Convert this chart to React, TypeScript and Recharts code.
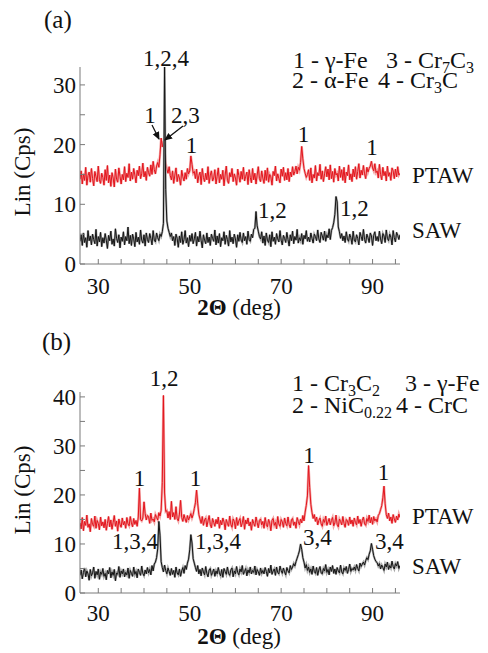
import React from 'react';
import { LineChart, Line, XAxis, YAxis } from 'recharts';

// 2θ scan grid (deg)
const twoThetaStart = 26;
const twoThetaStep = 0.25;

// (a) SAW intensity, Cps
const sawA = [
  3.8,4.9,3.1,5.2,3.6,4.4,2.8,5.6,3.9,4.7,3.2,5.0,4.1,3.4,5.8,3.0,4.6,3.7,5.3,2.9,
  4.4,3.5,5.1,4.0,2.6,4.8,3.9,5.5,3.3,4.2,3.0,5.9,4.3,3.6,4.9,2.7,4.5,3.8,5.4,3.2,
  4.6,3.9,6.2,3.4,4.8,3.1,5.0,4.2,2.9,5.3,3.7,4.5,3.3,5.7,4.0,3.5,4.9,3.0,5.2,4.1,
  3.6,5.1,4.3,3.2,5.6,4.0,3.7,5.2,4.4,3.9,5.0,4.6,5.4,6.8,33.0,12.5,7.2,6.0,5.3,4.6,
  5.2,3.9,4.6,3.1,5.0,4.3,2.8,4.7,3.6,5.4,3.3,4.1,5.6,3.5,4.4,2.9,4.8,3.8,5.1,3.4,
  4.2,5.3,3.0,4.6,3.7,5.5,3.9,2.7,4.9,4.0,3.4,5.2,3.6,4.5,3.1,5.0,4.3,3.8,5.7,3.2,
  4.7,3.5,5.1,2.9,4.4,3.9,5.4,3.3,4.8,4.1,3.0,5.6,3.7,4.5,3.4,5.0,4.2,2.8,4.9,3.8,
  5.3,4.0,3.6,5.2,3.9,4.6,3.3,5.5,4.1,3.8,5.0,4.4,5.8,6.0,8.8,6.4,5.5,4.6,4.2,5.4,
  3.5,4.7,3.1,5.2,4.0,3.6,4.9,2.9,5.4,3.8,4.5,3.3,5.1,4.2,3.7,5.6,4.0,3.2,4.8,4.3,
  3.6,5.3,4.1,3.0,4.9,3.9,5.5,3.4,4.6,4.0,5.8,3.5,4.4,3.9,5.1,3.3,4.8,4.2,5.6,3.8,
  4.5,3.7,5.2,4.3,3.5,5.0,4.6,3.9,5.7,4.2,3.6,5.3,4.7,4.0,5.5,3.8,4.9,4.4,5.9,4.1,
  5.6,6.1,6.9,8.3,11.3,10.4,6.2,5.4,4.3,5.1,3.9,4.7,3.6,5.4,4.2,3.8,5.0,4.4,3.3,5.5,
  4.0,3.7,4.9,4.3,3.2,5.3,4.6,3.9,5.8,4.1,3.5,5.0,4.4,3.6,5.2,4.7,3.1,4.8,5.4,3.9,
  4.6,3.8,5.5,4.2,3.4,5.1,4.7,3.6,5.7,4.3,3.9,5.0,4.5,3.2,5.6,4.4,3.7,5.3,4.8,4.1,
  4.9,
];

// (a) PTAW intensity, Cps
const ptawA = [
  14.2,15.6,13.4,15.1,14.0,16.2,13.2,14.8,15.4,13.7,16.0,14.3,13.1,15.5,14.6,13.8,16.4,14.1,13.5,15.2,
  14.5,13.2,15.8,14.0,16.5,13.6,14.9,13.0,15.3,14.4,12.9,15.9,14.2,13.7,16.1,14.7,13.4,15.0,14.1,16.3,
  13.8,15.2,14.5,16.8,13.9,15.4,14.2,16.0,14.9,13.6,15.7,14.8,16.4,14.3,15.1,16.9,14.6,15.5,14.0,16.2,
  15.3,14.7,16.6,15.0,17.2,15.8,15.1,16.4,17.0,16.2,18.3,21.1,19.6,20.6,19.0,16.9,15.9,15.2,16.3,14.8,
  14.1,15.6,13.5,14.9,16.1,13.8,15.0,14.4,13.2,15.7,14.6,13.9,15.3,14.2,16.0,15.1,15.6,18.1,16.7,15.2,
  15.5,14.3,15.9,13.6,14.8,15.4,13.3,16.0,14.5,13.8,15.2,14.1,16.3,13.5,14.9,15.6,13.9,14.4,15.8,13.4,
  14.7,16.1,13.6,15.0,14.2,15.7,13.1,14.9,16.4,14.0,13.5,15.3,14.6,16.0,13.8,15.1,14.4,13.2,15.9,14.8,
  13.7,15.5,14.2,16.2,13.9,14.7,15.4,13.3,15.8,14.5,13.6,16.0,14.1,15.2,13.4,14.9,16.3,14.3,13.8,15.6,
  14.4,13.5,15.7,14.0,16.1,13.7,15.0,14.6,13.2,15.5,14.8,16.4,13.9,15.1,14.3,13.6,15.9,14.7,16.2,14.0,
  15.3,14.1,16.0,13.8,15.4,14.6,16.3,14.9,15.5,16.4,15.1,16.2,15.7,17.0,19.7,17.6,16.0,15.2,14.5,15.0,
  15.8,14.0,16.1,13.6,15.0,14.4,16.5,13.9,15.3,14.8,16.7,14.2,15.6,13.8,15.1,16.3,14.6,15.9,14.1,16.6,
  14.3,15.5,13.7,16.0,14.9,15.2,13.9,16.4,14.5,15.8,14.0,16.2,13.6,15.4,14.8,16.6,14.1,15.1,13.8,15.9,
  14.6,16.3,14.2,15.5,16.8,14.4,15.7,14.9,16.5,15.1,14.3,16.2,15.4,16.0,16.4,17.2,16.1,15.6,16.8,15.3,
  15.6,14.4,16.7,15.0,14.1,16.2,14.8,15.5,13.9,16.4,14.7,15.3,14.0,16.1,15.6,14.3,15.9,14.6,16.3,14.9,
  15.2,
];

// (b) SAW intensity, Cps
const sawB = [
  3.6,4.7,2.9,4.2,5.1,3.3,4.5,3.9,2.6,4.8,3.5,4.1,5.3,3.0,4.4,3.7,4.9,2.8,4.3,3.8,
  5.0,3.4,4.0,2.7,4.6,3.9,5.2,3.1,4.3,3.6,4.8,2.5,4.1,3.8,5.4,3.2,4.5,3.9,4.9,3.3,
  4.2,3.7,5.1,3.0,4.6,4.0,3.4,5.3,3.8,4.4,3.1,4.9,4.2,3.6,5.5,4.0,3.5,4.7,3.9,5.2,
  4.1,4.8,3.7,5.6,4.5,5.9,6.3,7.2,9.0,14.6,11.8,6.4,5.2,4.3,5.7,4.6,3.9,5.1,4.4,3.6,
  5.0,3.8,4.6,3.2,5.3,4.1,3.7,4.9,3.4,4.5,5.2,4.0,5.6,4.8,6.1,6.9,8.8,11.9,10.2,7.0,
  6.1,5.2,4.4,5.6,3.9,4.8,3.5,5.1,4.3,3.7,5.4,4.0,3.3,4.7,5.0,3.6,4.2,4.9,3.4,4.5,
  3.9,5.2,4.1,3.5,4.8,3.2,5.0,4.4,3.8,5.3,4.0,3.6,4.7,5.1,3.3,4.5,3.9,5.4,4.2,3.7,
  4.9,4.3,5.6,3.8,4.4,5.0,3.5,4.7,4.1,5.3,3.9,4.6,4.2,5.5,3.7,4.8,4.3,3.6,5.1,4.0,
  4.6,3.9,5.2,4.4,3.4,5.0,4.1,5.7,3.8,4.5,4.9,3.6,5.3,4.2,3.9,5.5,4.6,4.0,5.1,4.3,
  3.7,5.2,4.5,4.1,5.6,4.8,5.3,6.0,5.5,6.4,7.1,7.8,8.6,10.0,8.9,7.2,6.3,5.1,5.8,4.6,
  5.3,4.2,4.9,3.8,5.5,4.4,4.0,5.2,3.6,4.7,5.4,4.1,3.9,5.0,4.5,5.8,4.2,4.8,3.7,5.3,
  4.4,5.6,4.0,4.9,3.8,5.2,4.5,4.1,5.7,4.3,3.9,5.1,4.6,5.4,4.0,4.8,5.9,4.4,5.0,4.7,
  5.3,4.6,5.8,5.0,4.5,6.1,5.4,5.9,6.3,5.7,6.6,7.2,6.8,7.9,8.6,10.1,8.9,7.6,6.9,6.4,
  6.2,5.5,6.0,4.9,5.7,5.2,4.6,5.9,5.3,6.3,4.8,5.6,5.1,6.5,5.4,4.9,6.0,5.5,6.4,5.0,
  5.6,
];

// (b) PTAW intensity, Cps
const ptawB = [
  14.3,13.1,15.4,12.7,14.6,13.8,15.9,13.4,14.1,12.5,15.2,14.0,13.6,15.7,13.2,14.8,14.2,12.9,15.5,13.7,
  14.5,13.3,15.0,12.8,14.2,15.6,13.5,14.9,13.0,14.4,15.8,13.6,14.7,12.6,15.1,14.0,13.4,15.3,13.9,14.6,
  13.2,15.4,14.1,13.7,15.6,14.3,13.5,15.2,14.0,14.8,13.6,15.5,21.4,15.0,14.7,15.3,18.6,16.2,14.9,15.8,
  15.6,14.2,16.3,14.8,15.1,14.5,16.0,15.4,14.9,16.4,15.7,16.9,22.5,40.3,20.4,16.6,16.8,15.3,16.6,15.0,
  18.7,15.5,16.4,15.0,17.6,15.2,14.7,16.1,18.9,15.4,14.6,16.0,15.1,14.4,15.8,14.9,15.5,16.2,15.3,16.0,
  17.2,18.4,21.0,18.2,16.0,15.1,14.2,15.6,13.8,14.9,15.3,13.5,14.7,15.8,14.0,13.3,15.2,14.4,13.6,15.0,
  14.1,15.5,13.2,14.8,13.9,15.3,14.5,12.9,15.0,14.2,13.6,15.7,14.0,13.4,15.1,14.6,13.1,15.4,13.8,14.7,
  15.2,13.5,14.3,15.6,13.0,14.9,14.1,15.3,13.7,14.5,12.8,15.0,14.2,13.6,15.5,14.4,13.3,14.8,15.1,13.9,
  14.6,13.2,15.4,14.0,13.5,15.0,14.3,12.7,14.8,15.2,13.8,14.4,13.1,15.6,14.1,13.6,15.0,14.5,13.4,15.3,
  14.2,13.7,15.5,14.0,13.3,14.9,15.2,13.8,14.5,13.2,15.4,14.6,13.9,15.1,14.3,15.8,14.7,16.5,17.9,19.8,
  26.0,21.5,18.1,16.4,15.2,16.0,14.6,15.5,13.9,14.8,15.3,14.1,13.6,15.0,14.4,15.7,13.8,14.5,15.2,13.9,
  14.8,15.4,13.7,14.3,15.9,14.0,13.5,15.1,14.6,13.9,15.6,14.2,13.4,15.0,14.7,13.8,15.5,14.1,14.9,13.6,
  15.3,14.4,13.9,15.7,14.2,15.0,13.6,14.8,15.5,14.1,13.8,15.2,14.6,15.9,14.3,15.4,14.0,15.6,14.7,15.1,
  14.5,15.8,16.2,17.0,17.8,19.4,21.8,18.2,16.0,15.2,16.3,14.7,15.5,14.2,16.0,15.1,14.4,15.7,14.9,16.1,
  15.4,
];

const xDomain: [number, number] = [26, 96];
const xTicks = [30, 35, 40, 45, 50, 55, 60, 65, 70, 75, 80, 85, 90, 95];
const xTickLabels = [30, 50, 70, 90];
const yDomainA: [number, number] = [0, 33];
const yDomainB: [number, number] = [0, 41];
const yTicksA = [0, 5, 10, 15, 20, 25, 30];
const yTicksB = [0, 5, 10, 15, 20, 25, 30, 35, 40];
const yTickLabelsA = [0, 10, 20, 30];
const yTickLabelsB = [0, 10, 20, 30, 40];

const buildRows = (saw: number[], ptaw: number[]) =>
  saw.map((v, i) => ({ x: twoThetaStart + i * twoThetaStep, saw: v, ptaw: ptaw[i] }));

const rowsA = buildRows(sawA, ptawA);
const rowsB = buildRows(sawB, ptawB);

const SERIF = "'Liberation Serif', 'DejaVu Serif', serif";
const AXIS = '#7a7a7a';
const RED = '#e3141c';
const RED_HALO = '#f3a5a5';
const BLACK = '#151515';
const BLACK_HALO = '#a8a8a8';
const FS = 23;
const txtStyle = { fontFamily: SERIF };

const makeXTick = (labelOffset: number) => (props: any) => {
  const { x, y, payload } = props;
  const v = payload.value;
  return (
    <g>
      <line x1={x} x2={x} y1={y} y2={y - 5} stroke={AXIS} strokeWidth={1} />
      {xTickLabels.includes(v) && (
        <text x={x} y={y + labelOffset} textAnchor="middle" fontSize={FS} style={txtStyle} fill="#111">
          {v}
        </text>
      )}
    </g>
  );
};

const makeYTick = (labels: number[]) => (props: any) => {
  const { x, y, payload } = props;
  const v = payload.value;
  return (
    <g>
      <line x1={x} x2={x + 5} y1={y} y2={y} stroke={AXIS} strokeWidth={1} />
      {labels.includes(v) && (
        <text x={x - 4} y={y + 8} textAnchor="end" fontSize={FS} style={txtStyle} fill="#111">
          {v}
        </text>
      )}
    </g>
  );
};

type PanelProps = {
  rows: { x: number; saw: number; ptaw: number }[];
  height: number;
  bottom: number;
  yDomain: [number, number];
  yTicks: number[];
  yLabels: number[];
  labelOffset: number;
};

const Panel = ({ rows, height, bottom, yDomain, yTicks, yLabels, labelOffset }: PanelProps) => (
  <LineChart width={488} height={height} data={rows} margin={{ top: 67, right: 88, bottom, left: 20 }}>
    <XAxis
      dataKey="x"
      type="number"
      domain={xDomain}
      ticks={xTicks}
      interval={0}
      allowDataOverflow
      height={30}
      tickSize={0}
      tickMargin={0}
      axisLine={{ stroke: AXIS }}
      tickLine={false}
      tick={makeXTick(labelOffset)}
    />
    <YAxis
      type="number"
      domain={yDomain}
      ticks={yTicks}
      interval={0}
      allowDataOverflow
      width={60}
      tickSize={0}
      tickMargin={0}
      axisLine={{ stroke: AXIS }}
      tickLine={false}
      tick={makeYTick(yLabels)}
    />
    <Line dataKey="ptaw" stroke={RED_HALO} strokeWidth={2.4} dot={false} activeDot={false} isAnimationActive={false} />
    <Line dataKey="ptaw" stroke={RED} strokeWidth={1} dot={false} activeDot={false} isAnimationActive={false} />
    <Line dataKey="saw" stroke={BLACK_HALO} strokeWidth={2.2} dot={false} activeDot={false} isAnimationActive={false} />
    <Line dataKey="saw" stroke={BLACK} strokeWidth={1} dot={false} activeDot={false} isAnimationActive={false} />
  </LineChart>
);

const T = ({ x, y, children, anchor = 'start', size = FS }: any) => (
  <text x={x} y={y} textAnchor={anchor} fontSize={size} style={txtStyle} fill="#111">
    {children}
  </text>
);

export default function App() {
  return (
    <div style={{ position: 'absolute', left: 0, top: 0, width: 488, height: 653, background: '#fff', fontFamily: SERIF }}>
      <div style={{ position: 'absolute', left: 0, top: 0 }}>
        <Panel rows={rowsA} height={300} bottom={6} yDomain={yDomainA} yTicks={yTicksA} yLabels={yTickLabelsA} labelOffset={30} />
      </div>
      <div style={{ position: 'absolute', left: 0, top: 325 }}>
        <Panel rows={rowsB} height={328} bottom={30} yDomain={yDomainB} yTicks={yTicksB} yLabels={yTickLabelsB} labelOffset={28} />
      </div>
      <svg width={488} height={653} style={{ position: 'absolute', left: 0, top: 0, pointerEvents: 'none' }}>
        <defs>
          <marker id="ah" markerWidth="8" markerHeight="8" refX="7" refY="4" orient="auto" markerUnits="userSpaceOnUse">
            <path d="M0,0.5 L8,4 L0,7.5 Z" fill="#111" />
          </marker>
        </defs>
        {/* panel (a) */}
        <T x={44} y={28} size={25}>(a)</T>
        <T x={293} y={68} size={24}>1 - γ-Fe</T>
        <T x={386} y={68} size={24}>
          3 - Cr<tspan dy={5} fontSize={16}>7</tspan><tspan dy={-5}>C</tspan><tspan dy={5} fontSize={16}>3</tspan>
        </T>
        <T x={292} y={88} size={24}>2 - α-Fe</T>
        <T x={378} y={88} size={24}>
          4 - Cr<tspan dy={5} fontSize={16}>3</tspan><tspan dy={-5}>C</tspan>
        </T>
        <T x={166} y={66} anchor="middle">1,2,4</T>
        <T x={150} y={123} anchor="middle">1</T>
        <T x={171} y={123}>2,3</T>
        <line x1={152} y1={125} x2={159} y2={139} stroke="#111" strokeWidth={1.3} markerEnd="url(#ah)" />
        <line x1={183} y1={126} x2={165} y2={140} stroke="#111" strokeWidth={1.3} markerEnd="url(#ah)" />
        <T x={191.5} y={153} anchor="middle">1</T>
        <T x={303.5} y={142} anchor="middle">1</T>
        <T x={372} y={155} anchor="middle">1</T>
        <T x={258} y={218}>1,2</T>
        <T x={340} y={216}>1,2</T>
        <T x={412} y={183}>PTAW</T>
        <T x={412} y={238}>SAW</T>
        <g transform="translate(30,172) rotate(-90)">
          <T x={0} y={0} anchor="middle">Lin (Cps)</T>
        </g>
        <text x={239} y={315} textAnchor="middle" fontSize={FS} style={txtStyle} fill="#111">
          <tspan fontWeight="bold">2Θ</tspan> (deg)
        </text>

        {/* panel (b) */}
        <T x={42} y={350} size={25}>(b)</T>
        <T x={292} y={391} size={24}>
          1 - Cr<tspan dy={5} fontSize={16}>3</tspan><tspan dy={-5}>C</tspan><tspan dy={5} fontSize={16}>2</tspan>
        </T>
        <T x={405} y={391} size={24}>3 - γ-Fe</T>
        <T x={292} y={413} size={24}>
          2 - NiC<tspan dy={5} fontSize={16}>0.22</tspan>
        </T>
        <T x={396} y={413} size={24}>4 - CrC</T>
        <T x={164} y={386} anchor="middle">1,2</T>
        <T x={139.5} y={486} anchor="middle">1</T>
        <T x={195.5} y={486} anchor="middle">1</T>
        <T x={309} y={463} anchor="middle">1</T>
        <T x={383.5} y={480} anchor="middle">1</T>
        <T x={112} y={549}>1,3,4</T>
        <T x={195} y={549}>1,3,4</T>
        <T x={303} y={545}>3,4</T>
        <T x={375} y={549}>3,4</T>
        <T x={412} y={524}>PTAW</T>
        <T x={412} y={574}>SAW</T>
        <g transform="translate(30,490) rotate(-90)">
          <T x={0} y={0} anchor="middle">Lin (Cps)</T>
        </g>
        <text x={239} y={644} textAnchor="middle" fontSize={FS} style={txtStyle} fill="#111">
          <tspan fontWeight="bold">2Θ</tspan> (deg)
        </text>
      </svg>
    </div>
  );
}
